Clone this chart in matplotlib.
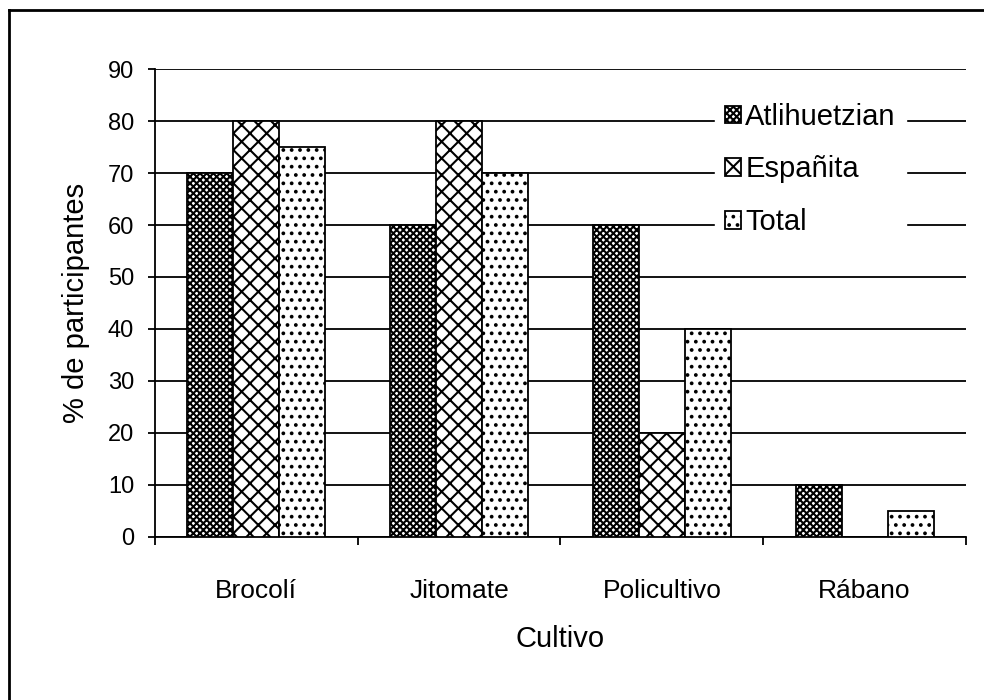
import numpy as np
import matplotlib.pyplot as plt
from matplotlib.lines import Line2D

plt.rcParams['font.family'] = ['Liberation Sans', 'DejaVu Sans']
plt.rcParams['hatch.linewidth'] = 1.5

cultivos = ['Brocolí', 'Jitomate', 'Policultivo', 'Rábano']
series = ['Atlihuetzian', 'Españita', 'Total']
atlihuetzian = [70, 60, 60, 10]
espanita = [80, 80, 20, 0]
total = [75, 70, 40, 5]
hatches = ['xxxxx', 'xx', '..']

fig = plt.figure(figsize=(9.84, 7.0), dpi=100)
ax = fig.add_axes([0.1575, 0.2329, 0.8242, 0.6685])

x = np.arange(len(cultivos))
width = 0.227
values = [atlihuetzian, espanita, total]
for i, (name, vals, h) in enumerate(zip(series, values, hatches)):
    ax.bar(x + (i - 1) * width, vals, width, facecolor='white', edgecolor='black',
           hatch=h, linewidth=1.3, label=name, zorder=3)

ax.set_xlim(-0.5, len(cultivos) - 0.5)
ax.set_ylim(0, 90)
ax.set_yticks(range(0, 91, 10))
ax.yaxis.grid(True, color='black', linewidth=1.3, zorder=0)
ax.set_axisbelow(True)
ax.set_xticks(x)
ax.set_xticklabels(cultivos)
ax.set_xticks(np.arange(-0.5, len(cultivos)), minor=True)
ax.tick_params(axis='x', which='major', length=0, pad=30, labelsize=19)
ax.tick_params(axis='x', which='minor', length=6, width=1.3)
ax.tick_params(axis='y', length=5, width=1.3, labelsize=17, pad=10)
for s in ['top', 'right']:
    ax.spines[s].set_visible(False)
ax.spines['left'].set_linewidth(1.3)
ax.spines['bottom'].set_linewidth(1.3)

ax.set_xlabel('Cultivo', fontsize=21, labelpad=16)
ax.set_ylabel('% de participantes', fontsize=21, labelpad=13)

leg = ax.legend(loc='upper left', bbox_to_anchor=(0.69, 0.95), frameon=True,
                fontsize=21, handlelength=0.55, handleheight=0.55, handletextpad=0.15,
                labelspacing=0.85, borderpad=0.35, borderaxespad=0, fancybox=False)
leg.get_frame().set_edgecolor('white')
leg.get_frame().set_facecolor('white')
leg.get_frame().set_alpha(1)
leg.set_zorder(5)

# outer chart frame (only top and left edges are visible in the picture)
fig.add_artist(Line2D([0.009, 1.0], [0.986, 0.986], transform=fig.transFigure,
                      color='black', linewidth=2))
fig.add_artist(Line2D([0.009, 0.009], [0.0, 0.986], transform=fig.transFigure,
                      color='black', linewidth=2))

fig.savefig('out.png', dpi=100)
